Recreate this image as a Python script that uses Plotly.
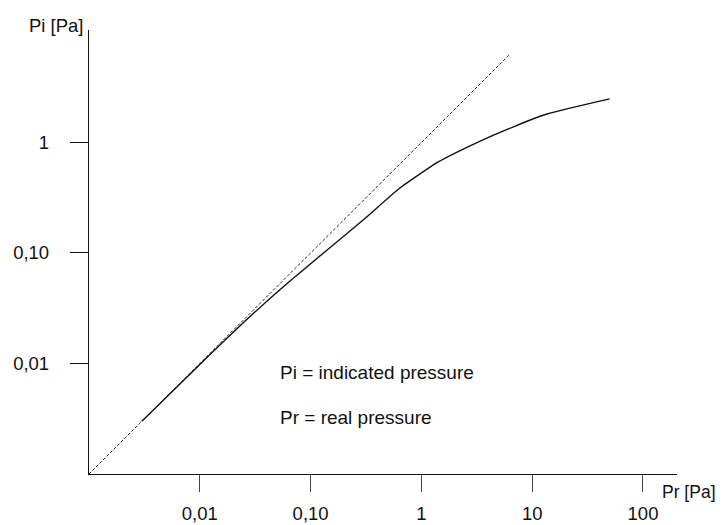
import plotly.graph_objects as go

# measured curve (indicated vs real pressure)
pr_real = [0.003, 0.01, 0.03, 0.064, 0.3, 0.64, 1.42, 3.25, 6.7, 13.6, 50]
pi_ind = [0.003, 0.0098, 0.028, 0.055, 0.2, 0.387, 0.667, 1.01, 1.38, 1.81, 2.48]

# ideal response Pi = Pr
pr_ideal = [0.001, 6.3]
pi_ideal = [0.001, 6.3]

x_ticks = [0.01, 0.1, 1, 10, 100]
x_labels = ["0,01", "0,10", "1", "10", "100"]
y_ticks = [0.01, 0.1, 1]
y_labels = ["0,01", "0,10", "1"]

FONT = "Liberation Sans, Arial, sans-serif"

fig = go.Figure()
fig.add_trace(go.Scatter(x=pr_ideal, y=pi_ideal, mode="lines",
                         line=dict(color="#222", width=1, dash="3px,2px")))
fig.add_trace(go.Scatter(x=pr_real, y=pi_ind, mode="lines",
                         line=dict(color="#111", width=1.4, shape="spline", smoothing=0.5)))

# axis names sit at the ends of the axes
fig.add_annotation(xref="paper", yref="paper", x=0, y=1.0, xanchor="left", yanchor="middle",
                   xshift=-62, yshift=5, text="Pi [Pa]", showarrow=False)
fig.add_annotation(xref="paper", yref="paper", x=1.0, y=0.0, xanchor="left", yanchor="middle",
                   xshift=-17, yshift=-18, text="Pr [Pa]", showarrow=False, font=dict(size=17.5))
# legend text
fig.add_annotation(xref="paper", yref="paper", x=(278 - 89) / 588, y=(474 - 372) / 444,
                   xanchor="left", yanchor="middle", text="Pi = indicated pressure",
                   showarrow=False, font=dict(size=19))
fig.add_annotation(xref="paper", yref="paper", x=(278 - 89) / 588, y=(474 - 417) / 444,
                   xanchor="left", yanchor="middle", text="Pr = real pressure",
                   showarrow=False, font=dict(size=19))

# page body has an 8px margin, so the margins are shifted to compensate
fig.update_layout(
    template="none",
    width=723, height=525,
    margin=dict(l=81, r=54, t=22, b=59),
    plot_bgcolor="white", paper_bgcolor="white",
    showlegend=False,
    font=dict(family=FONT, size=18.5, color="#111"),
)
fig.update_xaxes(type="log", range=[-3, 2.307], tickvals=x_ticks, ticktext=x_labels,
                 showline=True, linecolor="#111", linewidth=1.3, showgrid=False, zeroline=False,
                 ticks="outside", ticklen=17, tickcolor="#444", tickwidth=1,
                 ticklabelstandoff=6, automargin=False)
fig.update_yaxes(type="log", range=[-3, 1.018], tickvals=y_ticks, ticktext=y_labels,
                 showline=True, linecolor="#111", linewidth=1.3, showgrid=False, zeroline=False,
                 ticks="outside", ticklen=18, tickcolor="#111", tickwidth=1,
                 ticklabelstandoff=17, automargin=False)

fig.write_html("out.html")
